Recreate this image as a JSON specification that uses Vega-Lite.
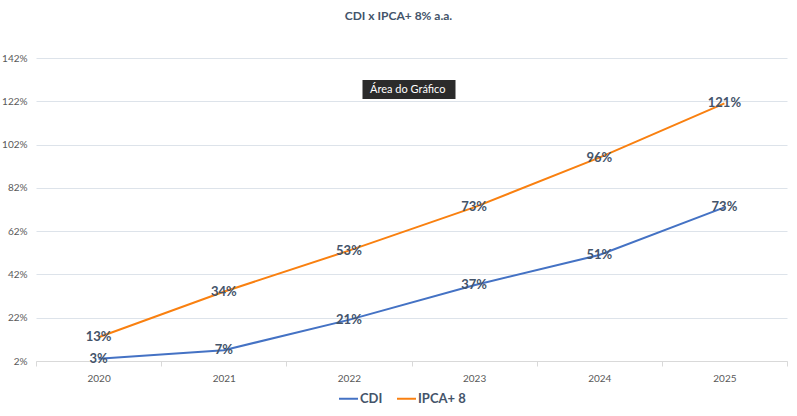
{
  "$schema": "https://vega.github.io/schema/vega-lite/v6.json",
  "width": 751,
  "height": 303,
  "autosize": {"type": "none"},
  "padding": {"left": 36, "top": 58, "right": 10, "bottom": 55},
  "background": "white",
  "title": {
    "text": "CDI x IPCA+ 8% a.a.",
    "font": "Lato",
    "fontSize": 12,
    "fontWeight": "bold",
    "color": "#44546A",
    "anchor": "middle",
    "dx": -13,
    "offset": 30
  },
  "datasets": {
    "series": [
      {"ano": "2020", "serie": "CDI", "v": 3},
      {"ano": "2021", "serie": "CDI", "v": 7},
      {"ano": "2022", "serie": "CDI", "v": 21},
      {"ano": "2023", "serie": "CDI", "v": 37},
      {"ano": "2024", "serie": "CDI", "v": 51},
      {"ano": "2025", "serie": "CDI", "v": 73},
      {"ano": "2020", "serie": "IPCA+ 8", "v": 13},
      {"ano": "2021", "serie": "IPCA+ 8", "v": 34},
      {"ano": "2022", "serie": "IPCA+ 8", "v": 53},
      {"ano": "2023", "serie": "IPCA+ 8", "v": 73},
      {"ano": "2024", "serie": "IPCA+ 8", "v": 96},
      {"ano": "2025", "serie": "IPCA+ 8", "v": 121}
    ],
    "tip": [
      {"ano": "2022", "v": 127.4, "label": "Área do Gráfico"}
    ]
  },
  "layer": [
    {
      "data": {"name": "series"},
      "mark": {"type": "line", "strokeWidth": 2},
      "encoding": {
        "x": {
          "field": "ano",
          "type": "ordinal",
          "scale": {"domain": ["2020", "2021", "2022", "2023", "2024", "2025"], "paddingInner": 0, "paddingOuter": 0},
          "axis": {
            "title": null,
            "labelAngle": 0,
            "tickBand": "extent",
            "grid": false,
            "domainColor": "#D9D9D9",
            "tickColor": "#D9D9D9",
            "tickSize": 5,
            "labelPadding": 7,
            "labelFont": "Lato",
            "labelFontSize": 10,
            "labelColor": "#595959"
          }
        },
        "y": {
          "field": "v",
          "type": "quantitative",
          "scale": {"domain": [2, 142], "nice": false, "zero": false},
          "axis": {
            "title": null,
            "values": [2, 22, 42, 62, 82, 102, 122, 142],
            "labelExpr": "datum.value + '%'",
            "grid": true,
            "gridColor": "#DDE3EA",
            "domain": false,
            "ticks": false,
            "labelPadding": 9,
            "labelFont": "Lato",
            "labelFontSize": 10,
            "labelColor": "#595959"
          }
        },
        "color": {
          "field": "serie",
          "type": "nominal",
          "scale": {"domain": ["CDI", "IPCA+ 8"], "range": ["#4472C4", "#F98010"]},
          "legend": {
            "title": null,
            "orient": "none",
            "legendX": 302,
            "legendY": 330,
            "direction": "horizontal",
            "symbolType": "stroke",
            "symbolSize": 360,
            "symbolStrokeWidth": 2,
            "labelFont": "Lato",
            "labelFontSize": 13,
            "labelFontWeight": "bold",
            "labelColor": "#44546A",
            "labelOffset": 1,
            "columnPadding": 10
          }
        }
      }
    },
    {
      "data": {"name": "series"},
      "mark": {
        "type": "text",
        "font": "Lato",
        "fontSize": 13,
        "fontWeight": "bold",
        "color": "#44546A",
        "text": {"expr": "datum.v + '%'"}
      },
      "encoding": {
        "x": {"field": "ano", "type": "ordinal"},
        "y": {"field": "v", "type": "quantitative"}
      }
    },
    {
      "data": {"name": "tip"},
      "mark": {
        "type": "point",
        "shape": "M-1,-0.204 L1,-0.204 L1,0.204 L-1,0.204 Z",
        "size": 8649,
        "filled": true,
        "color": "#2B2B2B",
        "opacity": 1
      },
      "encoding": {
        "x": {"field": "ano", "type": "ordinal", "bandPosition": 0.98},
        "y": {"field": "v", "type": "quantitative"}
      }
    },
    {
      "data": {"name": "tip"},
      "mark": {"type": "text", "font": "Lato", "fontSize": 11, "color": "white"},
      "encoding": {
        "x": {"field": "ano", "type": "ordinal", "bandPosition": 0.97},
        "y": {"field": "v", "type": "quantitative"},
        "text": {"field": "label"}
      }
    }
  ],
  "config": {
    "view": {"stroke": null}
  }
}
